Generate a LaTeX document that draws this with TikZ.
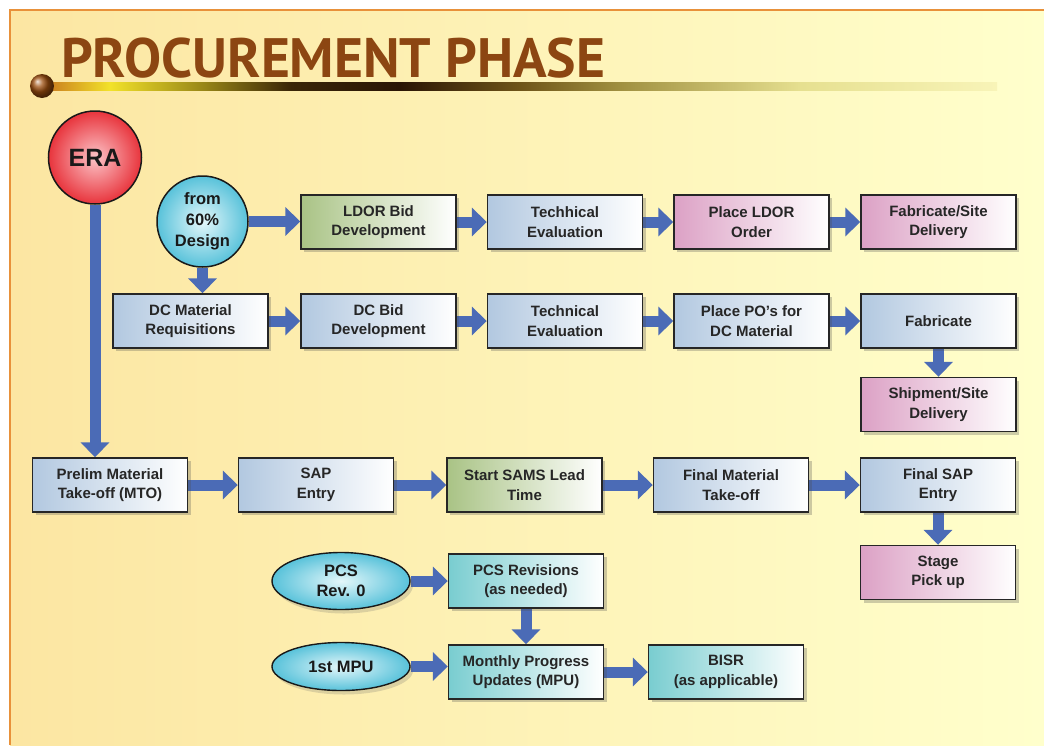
\documentclass[tikz,border=0pt]{standalone}
\usepackage{fontspec}
\setmainfont{Liberation Sans}
\newfontfamily\titlefont{PT Sans}
\usetikzlibrary{arrows.meta,shadows,shapes.geometric}

\definecolor{frameorange}{HTML}{E8913A}
\definecolor{bgyellow}{HTML}{FCE6A2}
\definecolor{bgcream}{HTML}{FFFAE8}
\definecolor{bgpale}{HTML}{FFFFCC}
\definecolor{titlebrown}{HTML}{8C4612}
\definecolor{flowblue}{HTML}{4B6BB6}
\definecolor{boxblue}{HTML}{B2C8E0}
\definecolor{boxgreen}{HTML}{A9C385}
\definecolor{boxpink}{HTML}{DCA1C5}
\definecolor{boxteal}{HTML}{79CDD0}
\definecolor{eraouter}{HTML}{E8343C}
\definecolor{erainner}{HTML}{FCC4C8}
\definecolor{cyanouter}{HTML}{58C2DA}
\definecolor{cyaninner}{HTML}{E4F7FA}

% colour ramp of the bar under the heading (path spans 25bp..75bp)
\definecolor{barA}{HTML}{C8781E}
\definecolor{barB}{HTML}{F2E22A}
\definecolor{barC}{HTML}{9C8A18}
\definecolor{barD}{HTML}{3A2608}
\definecolor{barE}{HTML}{2A1505}
\definecolor{barF}{HTML}{6E5418}
\definecolor{barG}{HTML}{A09040}
\definecolor{barH}{HTML}{E6E090}
\definecolor{barI}{HTML}{F8F4B8}
\pgfdeclarehorizontalshading{titlebar}{100bp}{%
  color(0bp)=(barA); color(25bp)=(barA); color(28.4bp)=(barB);
  color(33.1bp)=(barC); color(37.9bp)=(barD); color(43.6bp)=(barE);
  color(49.9bp)=(barF); color(55.2bp)=(barG); color(64.7bp)=(barH);
  color(75bp)=(barI); color(100bp)=(barI)}

\pgfdeclarelayer{bg}
\pgfdeclarelayer{links}
\pgfsetlayers{bg,links,main}

\tikzset{
  box/.style={draw=black!85, line width=1.4pt, minimum width=155pt,
    minimum height=54pt, inner sep=0pt, align=center,
    font=\fontsize{15}{19.5}\selectfont\bfseries, text=black!85,
    drop shadow={shadow xshift=3pt, shadow yshift=-3pt, opacity=0.28, fill=black!70}},
  bluebox/.style={box, left color=boxblue, middle color=boxblue!90!white, right color=white},
  greenbox/.style={box, left color=boxgreen, middle color=boxgreen!90!white, right color=white},
  pinkbox/.style={box, left color=boxpink, middle color=boxpink!90!white, right color=white},
  tealbox/.style={box, left color=boxteal, middle color=boxteal!90!white, right color=white},
  startball/.style={circle, draw=black!90, line width=1.5pt, inner sep=0pt, align=center,
    text=black!90},
  cyanoval/.style={ellipse, draw=black!90, line width=1.4pt, inner sep=0pt, align=center,
    inner color=cyaninner, outer color=cyanouter, text=black!90,
    font=\fontsize{16.5}{20}\selectfont\bfseries,
    drop shadow={shadow xshift=3pt, shadow yshift=-4pt, opacity=0.22, fill=black!60}},
  flow/.style={draw=flowblue, line width=11pt, -{Triangle[width=28pt,length=15pt]}},
}

\begin{document}
\begin{tikzpicture}[x=1pt, y=-1pt]
\useasboundingbox (0,0) rectangle (1044,745);

% page background and frame
\begin{pgfonlayer}{bg}
  \fill[white] (0,0) rectangle (1044,745);
  \shade[left color=bgyellow, middle color=bgcream, right color=bgpale]
    (10,10) rectangle (1044,745);
  \draw[frameorange, line width=2pt] (10,745) -- (10,10) -- (1044,10);
\end{pgfonlayer}

% heading
\shade[shading=titlebar] (45,82) rectangle (997,90);
\shade[ball color=titlebrown!85!orange] (42,86) circle (12);
\node[anchor=base west, inner sep=0pt, text=titlebrown,
  font=\titlefont\fontsize{55.5}{55.5}\selectfont\bfseries] (title) at (61,77) {PROCUREMENT PHASE};

% start points
\node[startball, minimum size=93pt, inner color=erainner, outer color=eraouter,
  font=\fontsize{25}{25}\selectfont\bfseries] (era) at (95,157.5) {ERA};
\node[startball, minimum size=91pt, inner color=cyaninner, outer color=cyanouter,
  font=\fontsize{16.5}{21}\selectfont\bfseries] (c60) at (202.5,221.5) {from\\60\%\\Design};

% LDOR row
\node[greenbox] (ldor)   at (378.5,222) {LDOR Bid\\Development};
\node[bluebox]  (tech1)  at (565,222)   {Techhical\\Evaluation};
\node[pinkbox]  (pldor)  at (751.5,222) {Place LDOR\\Order};
\node[pinkbox]  (fabsite) at (938.5,222) {Fabricate/Site\\Delivery};

% DC material row
\node[bluebox] (dcmat)  at (190.5,321) {DC Material\\Requisitions};
\node[bluebox] (dcbid)  at (378.5,321) {DC Bid\\Development};
\node[bluebox] (tech2)  at (565,321)   {Technical\\Evaluation};
\node[bluebox] (placepo) at (751.5,321) {Place PO's for\\DC Material};
\node[bluebox] (fab)    at (938.5,321) {Fabricate};
\node[pinkbox] (ship)   at (938.5,404.5) {Shipment/Site\\Delivery};

% material take-off row
\node[bluebox]  (prelim)   at (110,485)   {Prelim Material\\Take-off (MTO)};
\node[bluebox]  (sap)      at (316,485)   {SAP\\Entry};
\node[greenbox] (sams)     at (524.5,485) {Start SAMS Lead\\Time};
\node[bluebox]  (finalmat) at (731,485)   {Final Material\\Take-off};
\node[bluebox]  (finalsap) at (938,485)   {Final SAP\\Entry};
\node[pinkbox]  (stage)    at (938,572.5) {Stage\\Pick up};

% progress reporting
\node[cyanoval, minimum width=138pt, minimum height=57pt] (pcs0) at (341,581) {PCS\\Rev. 0};
\node[cyanoval, minimum width=138pt, minimum height=48pt] (mpu1) at (341,666.5) {1st MPU};
\node[tealbox] (pcsrev)  at (526,581) {PCS Revisions\\(as needed)};
\node[tealbox] (monthly) at (526,672) {Monthly Progress\\Updates (MPU)};
\node[tealbox] (bisr)    at (726,672) {BISR\\(as applicable)};

% connectors
\begin{pgfonlayer}{links}
  \draw[flow] (era.south) -- (era.south |- prelim.north);
  \draw[flow] (c60.east) -- (c60.east -| ldor.west);
  \draw[flow] (c60.south) -- (c60.south |- dcmat.north);
  \draw[flow] (ldor.east) -- (tech1.west);
  \draw[flow] (tech1.east) -- (pldor.west);
  \draw[flow] (pldor.east) -- (fabsite.west);
  \draw[flow] (dcmat.east) -- (dcbid.west);
  \draw[flow] (dcbid.east) -- (tech2.west);
  \draw[flow] (tech2.east) -- (placepo.west);
  \draw[flow] (placepo.east) -- (fab.west);
  \draw[flow] (fab.south) -- (ship.north);
  \draw[flow] (prelim.east) -- (sap.west);
  \draw[flow] (sap.east) -- (sams.west);
  \draw[flow] (sams.east) -- (finalmat.west);
  \draw[flow] (finalmat.east) -- (finalsap.west);
  \draw[flow] (finalsap.south) -- (stage.north);
  \draw[flow] (pcs0.east) -- (pcs0.east -| pcsrev.west);
  \draw[flow] (pcsrev.south) -- (monthly.north);
  \draw[flow] (mpu1.east) -- (mpu1.east -| monthly.west);
  \draw[flow] (monthly.east) -- (bisr.west);
\end{pgfonlayer}
\end{tikzpicture}
\end{document}
